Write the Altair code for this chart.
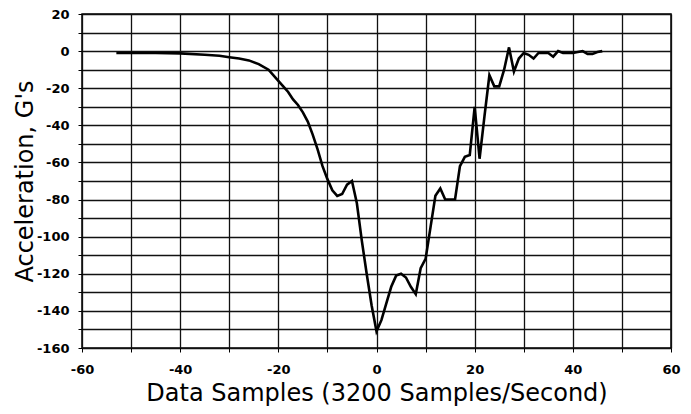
import altair as alt
import pandas as pd

# Data samples (3200 samples/second) and acceleration in G's
samples = [-53, -50, -45, -40, -35, -32, -30, -28, -26, -24, -22, -20, -19, -18, -17,
           -16, -15, -14, -13, -12, -11, -10, -9, -8, -7, -6, -5, -4, -3, -2, -1,
           0, 1, 2, 3, 4, 5, 6, 7, 8, 9, 10, 11, 12, 13, 14, 15, 16, 17, 18, 19,
           20, 21, 22, 23, 24, 25, 26, 27, 28, 29, 30, 31, 32, 33, 34, 35, 36, 37,
           38, 39, 40, 41, 42, 43, 44, 45, 46]
accel = [-1, -1, -1, -1.2, -2, -2.5, -3.3, -4, -5, -7, -10, -16, -19, -22, -26,
         -29, -33, -38, -45, -53, -62, -69, -75, -78, -77, -72, -70, -82, -102, -120, -137,
         -151, -145, -136, -127, -121, -120, -122, -127, -131, -117, -112, -95, -78, -74, -80, -80, -80, -62, -57, -56,
         -30, -58, -35, -13, -19, -19, -10, 2, -11, -4, -1, -2, -4, -1, -1, -1, -3, 0,
         -1, -1, -1, -0.5, 0, -1.5, -1.5, -0.5, 0]

x_grid = list(range(-60, 61, 10))
y_grid = list(range(-160, 21, 10))

df = pd.DataFrame({"x": samples, "y": accel})

FONT = "DejaVu Sans"
W, H = 589, 334

chart = alt.Chart(df).mark_line(color="black", strokeWidth=2.6, interpolate="linear").encode(
    x=alt.X("x:Q",
            scale=alt.Scale(domain=[-60, 60], nice=False, zero=False),
            axis=alt.Axis(values=x_grid,
                          labelExpr="datum.value % 20 == 0 ? '' + datum.value : ''",
                          title="Data Samples (3200 Samples/Second)",
                          titleX=W / 2, titleY=52, titleBaseline="alphabetic",
                          labelPadding=11)),
    y=alt.Y("y:Q",
            scale=alt.Scale(domain=[-160, 20], nice=False, zero=False),
            axis=alt.Axis(values=y_grid,
                          labelExpr="datum.value % 20 == 0 ? '' + datum.value : ''",
                          title="Acceleration, G's",
                          titleX=-50, titleY=H / 2, titleBaseline="alphabetic", titleAngle=-90,
                          labelPadding=9)),
).properties(
    width=W, height=H,
    background="white",
    autosize=alt.AutoSizeParams(type="none"),
    padding={"left": 74, "top": 6, "right": 12, "bottom": 58},
).configure_view(
    stroke="black", strokeWidth=1.5
).configure_axis(
    grid=True, gridColor="#111111", gridWidth=1.3, gridOpacity=1,
    domain=False, ticks=True, tickColor="black", tickSize=4, tickWidth=1,
    labelFont=FONT, labelFontWeight="bold", labelFontSize=13, labelColor="black",
    titleFont=FONT, titleFontWeight="normal", titleFontSize=24, titleColor="black",
    labelFlush=False, labelOverlap=False,
)

chart.save("out.html", embed_options={"renderer": "svg", "actions": False})
